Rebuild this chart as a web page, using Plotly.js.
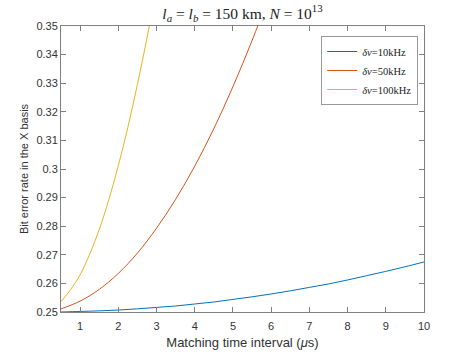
<!DOCTYPE html>
<html>
<head>
<meta charset="utf-8">
<script src="https://cdn.plot.ly/plotly-3.0.1.min.js"></script>
<style>
  html, body { margin: 0; padding: 0; background: #fff; }
  #plotBer { width: 469px; height: 352px; }
</style>
</head>
<body>
<div id="plotBer"></div>
<script>
// values
var tBlue = [0.5, 1, 1.5, 2, 2.5, 3, 3.5, 4, 4.5, 5, 5.5, 6, 6.5, 7, 7.5, 8, 8.5, 9, 9.5, 10];
var berBlue = [0.2500, 0.2502, 0.2504, 0.2507, 0.2511, 0.2516, 0.2521, 0.2528, 0.2535, 0.2544,
               0.2553, 0.2563, 0.2574, 0.2586, 0.2598, 0.2612, 0.2627, 0.2642, 0.2658, 0.2675];

var tOrange = [0.5, 1, 1.5, 2, 2.5, 3, 3.5, 4, 4.5, 5, 5.5, 6];
var berOrange = [0.2511, 0.2538, 0.2579, 0.2635, 0.2706, 0.2793, 0.2894, 0.3010, 0.3141, 0.3288, 0.3449, 0.3625];

var tYellow = [0.5, 0.75, 1, 1.25, 1.5, 1.75, 2, 2.25, 2.5, 2.75, 3];
var berYellow = [0.2536, 0.2578, 0.2630, 0.2702, 0.2788, 0.2892, 0.3012, 0.3146, 0.3296, 0.3458, 0.3635];

var seriesNames = ["<i>δv</i>=10kHz", "<i>δv</i>=50kHz", "<i>δv</i>=100kHz"];

var xTicks = [1, 2, 3, 4, 5, 6, 7, 8, 9, 10];
var yTicks = [0.25, 0.26, 0.27, 0.28, 0.29, 0.30, 0.31, 0.32, 0.33, 0.34, 0.35];
var yTickText = ["0.25", "0.26", "0.27", "0.28", "0.29", "0.3", "0.31", "0.32", "0.33", "0.34", "0.35"];

var traces = [
  {x: tBlue, y: berBlue, name: seriesNames[0], mode: "lines",
   line: {color: "#0072BD", width: 1, shape: "spline"}},
  {x: tOrange, y: berOrange, name: seriesNames[1], mode: "lines",
   line: {color: "#D95319", width: 1, shape: "spline"}},
  {x: tYellow, y: berYellow, name: seriesNames[2], mode: "lines",
   line: {color: "#EDB120", width: 1, shape: "spline"}}
];

// matlab-like box axes
var axisStyle = {
  showline: true, mirror: "allticks", linecolor: "#808080", linewidth: 1,
  ticks: "inside", ticklen: 5, tickcolor: "#808080", tickwidth: 1,
  showgrid: false, zeroline: false,
  tickfont: {family: "Liberation Sans, Arial, sans-serif", size: 11, color: "#333"}
};

var layout = {
  width: 469, height: 352,
  margin: {l: 61, r: 45, t: 26, b: 40},
  paper_bgcolor: "#fff", plot_bgcolor: "#fff",
  title: {
    text: "<i>l<sub>a</sub></i> = <i>l<sub>b</sub></i> = 150 km, <i>N</i> = 10<sup>13</sup>",
    font: {family: "Liberation Serif, Times New Roman, serif", size: 15.5, color: "#222"},
    x: 0.5, xref: "paper", y: 0.962, yanchor: "middle"
  },
  xaxis: Object.assign({}, axisStyle, {
    range: [0.5, 10], tickvals: xTicks, ticklabelstandoff: 4,
    title: {text: "Matching time interval (<i>μ</i>s)", standoff: 6,
            font: {family: "Liberation Sans, Arial, sans-serif", size: 13, color: "#333"}}
  }),
  yaxis: Object.assign({}, axisStyle, {
    range: [0.25, 0.35], tickvals: yTicks, ticktext: yTickText,
    title: {text: "Bit error rate in the X basis", standoff: 5,
            font: {family: "Liberation Sans, Arial, sans-serif", size: 11, color: "#333"}}
  }),
  legend: {
    x: 0.984, xanchor: "right", y: 0.965, yanchor: "top",
    bgcolor: "#fff", bordercolor: "#999", borderwidth: 1,
    font: {family: "Liberation Serif, Times New Roman, serif", size: 10.5, color: "#222"},
    tracegroupgap: 0, itemwidth: 30
  },
  showlegend: true
};

Plotly.newPlot("plotBer", traces, layout, {displayModeBar: false, staticPlot: true});
</script>
</body>
</html>
